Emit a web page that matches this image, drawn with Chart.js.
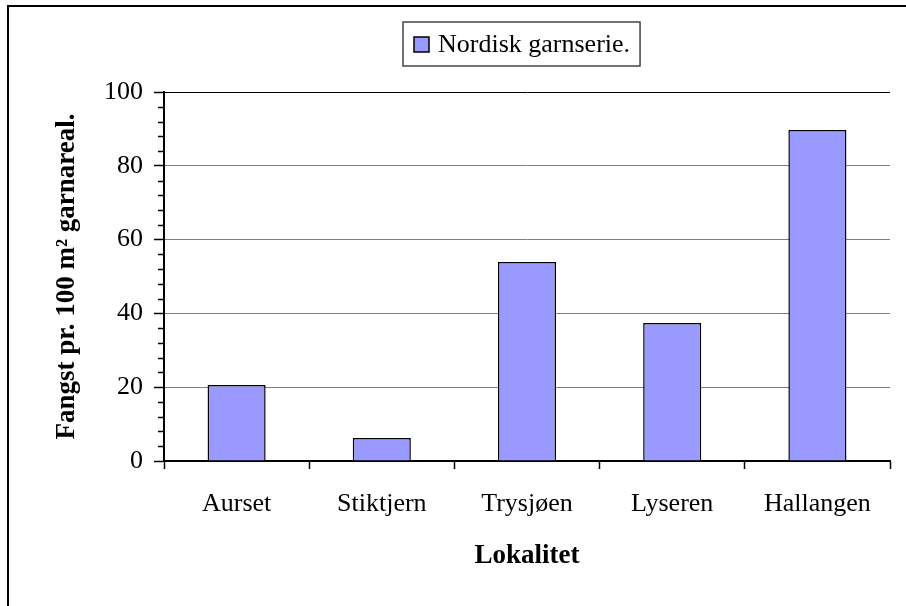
<!DOCTYPE html>
<html>
<head>
<meta charset="utf-8">
<script src="https://cdn.jsdelivr.net/npm/chart.js@4"></script>
<style>
  html, body { margin: 0; padding: 0; background: #fff; }
  canvas { display: block; }
</style>
</head>
<body>
<canvas id="myChart" width="906" height="606"></canvas>
<script>
/* DATA */
const localities = ['Aurset', 'Stiktjern', 'Trysjøen', 'Lyseren', 'Hallangen'];
const catchValues = [20.6, 6.2, 53.9, 37.4, 89.7];
const seriesName = 'Nordisk garnserie.';
const yTicks = [0, 20, 40, 60, 80, 100];

const serif = "'Liberation Serif', 'Times New Roman', serif";

/* frame, minor ticks and boxed legend */
const extras = {
    id: 'extras',
    beforeDraw(chart) {
        const ctx = chart.ctx;
        ctx.save();
        ctx.fillStyle = '#fff';
        ctx.fillRect(0, 0, chart.width, chart.height);
        ctx.strokeStyle = '#000';
        ctx.lineWidth = 2;
        ctx.beginPath();
        ctx.moveTo(8, chart.height);
        ctx.lineTo(8, 6);
        ctx.lineTo(chart.width, 6);
        ctx.stroke();
        ctx.restore();
    },
    afterDraw(chart) {
        const ctx = chart.ctx;
        const y = chart.scales.y;
        ctx.save();
        // minor ticks
        ctx.strokeStyle = '#000';
        ctx.lineWidth = 1.5;
        for (let v = 0; v <= 100; v += 4) {
            if (v % 20 === 0) continue;
            const py = Math.round(y.getPixelForValue(v)) + 0.5;
            ctx.beginPath();
            ctx.moveTo(y.right - 6, py);
            ctx.lineTo(y.right, py);
            ctx.stroke();
        }
        // legend
        const ds = chart.data.datasets[0];
        ctx.font = '26px ' + serif;
        const tw = ctx.measureText(ds.label).width;
        const bx = 403, by = 22, bh = 44;
        const bw = 35 + tw + 10;
        ctx.strokeStyle = '#444';
        ctx.lineWidth = 1.5;
        ctx.strokeRect(bx, by, bw, bh);
        ctx.fillStyle = ds.backgroundColor;
        ctx.fillRect(bx + 11, by + 15, 15, 15);
        ctx.strokeStyle = '#000';
        ctx.lineWidth = 1.5;
        ctx.strokeRect(bx + 11, by + 15, 15, 15);
        ctx.fillStyle = '#000';
        ctx.textBaseline = 'middle';
        ctx.fillText(ds.label, bx + 35, by + bh / 2 + 1);
        ctx.restore();
    }
};

const data = {
    labels: localities,
    datasets: [{
        label: seriesName,
        data: catchValues,
        backgroundColor: '#9999FF',
        borderColor: '#000',
        borderWidth: 1.5,
        barPercentage: 0.4,
        categoryPercentage: 1
    }]
};

const config = {
    type: 'bar',
    data,
    options: {
        responsive: false,
        animation: false,
        devicePixelRatio: 1,
        layout: { padding: { top: 92, right: 16, left: 0, bottom: 0 } },
        plugins: {
            legend: { display: false },
            tooltip: { enabled: false }
        },
        scales: {
            x: {
                grid: {
                    offset: true,
                    drawOnChartArea: false,
                    tickLength: 8,
                    tickColor: '#000',
                    tickWidth: 1.5
                },
                border: { color: '#000', width: 2 },
                ticks: {
                    color: '#000',
                    padding: 20,
                    font: { family: serif, size: 26 }
                },
                title: {
                    display: true,
                    text: 'Lokalitet',
                    color: '#000',
                    padding: { bottom: 34 },
                    font: { family: serif, size: 27, weight: 'bold' }
                },
                afterFit(scale) { scale.height = 145; }
            },
            y: {
                min: 0,
                max: 100,
                grid: {
                    color: ctx => ctx.tick && ctx.tick.value === 100 ? '#000' : '#808080',
                    lineWidth: 1,
                    tickLength: 10,
                    tickColor: '#000',
                    tickWidth: 1.5
                },
                border: { color: '#000', width: 2 },
                afterBuildTicks(scale) {
                    scale.ticks = yTicks.map(v => ({ value: v }));
                },
                ticks: {
                    color: '#000',
                    padding: 11,
                    font: { family: serif, size: 26 }
                },
                title: {
                    display: true,
                    text: 'Fangst pr. 100 m² garnareal.',
                    color: '#000',
                    padding: { top: 51 },
                    font: { family: serif, size: 27, weight: 'bold' }
                },
                afterFit(scale) { scale.width = 164; }
            }
        }
    },
    plugins: [extras]
};

let myChart = new Chart(
    document.getElementById('myChart'),
    config
);
</script>
</body>
</html>
